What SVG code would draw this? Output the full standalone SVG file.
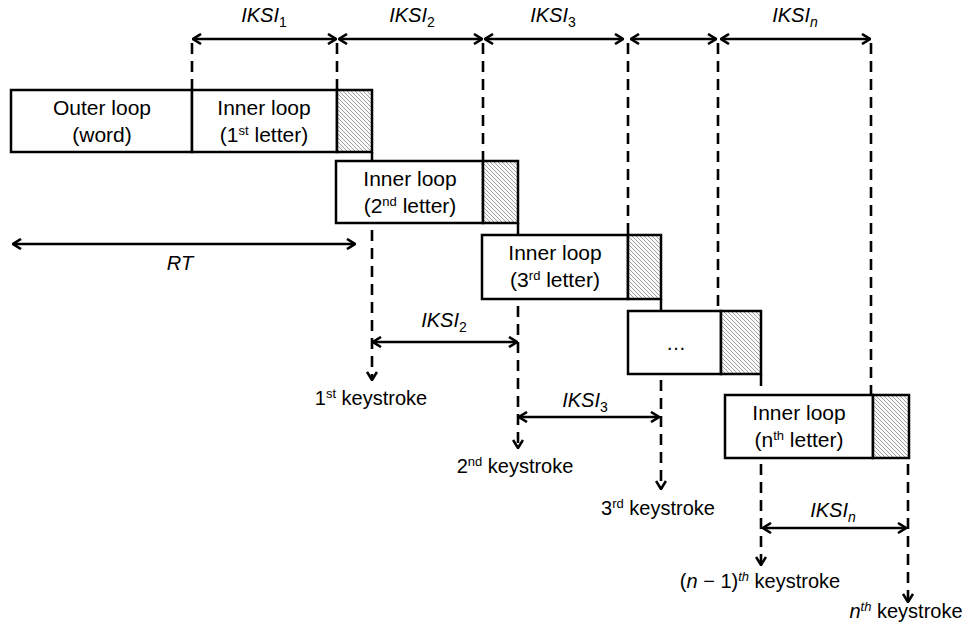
<svg xmlns="http://www.w3.org/2000/svg" width="964" height="632" viewBox="0 0 964 632">
<style>
.box{fill:#fff;stroke:#000;stroke-width:2.5}
.hatch{fill:url(#hp);stroke:#000;stroke-width:2.5}
.t{font-family:"Liberation Sans",Arial,sans-serif;font-size:20px;fill:#000}
.b{font-size:21px}
.c{text-anchor:middle}
.i{font-style:italic}
.n{font-style:normal}
.dash{stroke:#000;stroke-width:2.6;stroke-dasharray:11 7;fill:none}
.solid{stroke:#000;stroke-width:2.5;fill:none}
.arr{stroke:#000;stroke-width:2.5;fill:none;marker-start:url(#ah);marker-end:url(#ah)}
.down{marker-end:url(#ah)}
.sub{font-size:14px}
.sup{font-size:13px}
</style>
<defs>
<pattern id="hp" patternUnits="userSpaceOnUse" width="4" height="4">
<rect width="4" height="4" fill="#fafafa"/>
<path d="M-1,-1 L5,5 M-1,3 L1,5 M3,-1 L5,1" stroke="#8a8a8a" stroke-width="0.8"/>
</pattern>
<marker id="ah" viewBox="0 0 10 12" refX="9" refY="6" markerWidth="10" markerHeight="12" markerUnits="userSpaceOnUse" orient="auto-start-reverse">
<path d="M1,1 L9,6 L1,11" fill="none" stroke="#000" stroke-width="2.6"/>
</marker>
</defs>

<g id="connectors">
<line class="dash" x1="192" y1="43" x2="192" y2="90"/>
<line class="dash" x1="337" y1="43" x2="337" y2="90"/>
<line class="dash" x1="483" y1="43" x2="483" y2="161"/>
<line class="dash" x1="628" y1="43" x2="628" y2="235"/>
<line class="dash" x1="718" y1="43" x2="718" y2="311"/>
<line class="dash" x1="871" y1="43" x2="871" y2="395"/>
<line class="arr" x1="193" y1="39" x2="336" y2="39"/>
<line class="arr" x1="339" y1="39" x2="482" y2="39"/>
<line class="arr" x1="485" y1="39" x2="623" y2="39"/>
<line class="arr" x1="631" y1="39" x2="716" y2="39"/>
<line class="arr" x1="721" y1="39" x2="870" y2="39"/>
<line class="solid" x1="372" y1="152" x2="372" y2="161"/>
<line class="solid" x1="518" y1="223" x2="518" y2="235"/>
<line class="solid" x1="661" y1="299" x2="661" y2="311"/>
<line class="solid" x1="761" y1="374" x2="761" y2="386"/>
<line class="dash down" x1="372" y1="230" x2="372" y2="380"/>
<line class="dash down" x1="518" y1="306" x2="518" y2="448"/>
<line class="dash down" x1="661" y1="380" x2="661" y2="489"/>
<line class="dash down" x1="761" y1="464" x2="761" y2="565"/>
<line class="dash down" x1="908" y1="464" x2="908" y2="602"/>
<line class="arr" x1="13" y1="244" x2="355" y2="244"/>
<line class="arr" x1="373" y1="342" x2="517" y2="342"/>
<line class="arr" x1="519" y1="417" x2="659" y2="417"/>
<line class="arr" x1="763" y1="528" x2="906" y2="528"/>
</g>

<g id="node-outer">
<rect class="box" x="11" y="90" width="181" height="62"/>
<text class="t b c" x="102" y="115">Outer loop</text>
<text class="t b c" x="102" y="142">(word)</text>
</g>
<g id="node-inner1">
<rect class="box" x="192" y="90" width="145" height="62"/>
<rect class="hatch" x="337" y="90" width="35" height="62"/>
<text class="t b c" x="264" y="115">Inner loop</text>
<text class="t b c" x="264" y="142">(1<tspan class="sup" dy="-7">st</tspan><tspan dy="7"> letter)</tspan></text>
</g>
<g id="node-inner2">
<rect class="box" x="336" y="161" width="147" height="62"/>
<rect class="hatch" x="483" y="161" width="35" height="62"/>
<text class="t b c" x="410" y="186">Inner loop</text>
<text class="t b c" x="410" y="213">(2<tspan class="sup" dy="-7">nd</tspan><tspan dy="7"> letter)</tspan></text>
</g>
<g id="node-inner3">
<rect class="box" x="482" y="235" width="146" height="64"/>
<rect class="hatch" x="628" y="235" width="33" height="64"/>
<text class="t b c" x="555" y="260">Inner loop</text>
<text class="t b c" x="555" y="287">(3<tspan class="sup" dy="-7">rd</tspan><tspan dy="7"> letter)</tspan></text>
</g>
<g id="node-dots">
<rect class="box" x="628" y="311" width="93" height="63"/>
<rect class="hatch" x="721" y="311" width="40" height="63"/>
<text class="t c" x="676" y="350">…</text>
</g>
<g id="node-innern">
<rect class="box" x="725" y="395" width="148" height="63"/>
<rect class="hatch" x="873" y="395" width="36" height="63"/>
<text class="t b c" x="799" y="420">Inner loop</text>
<text class="t b c" x="799" y="447">(n<tspan class="sup" dy="-7">th</tspan><tspan dy="7"> letter)</tspan></text>
</g>

<g id="labels">
<text class="t c i" x="264" y="22">IKSI<tspan class="sub n" dy="5">1</tspan></text>
<text class="t c i" x="412" y="22">IKSI<tspan class="sub n" dy="5">2</tspan></text>
<text class="t c i" x="553" y="22">IKSI<tspan class="sub n" dy="5">3</tspan></text>
<text class="t c i" x="795" y="22">IKSI<tspan class="sub" dy="5">n</tspan></text>
<text class="t c i" x="180" y="270">RT</text>
<text class="t c i" x="444" y="327">IKSI<tspan class="sub n" dy="5">2</tspan></text>
<text class="t c i" x="585" y="407">IKSI<tspan class="sub n" dy="5">3</tspan></text>
<text class="t c i" x="833" y="517">IKSI<tspan class="sub" dy="5">n</tspan></text>
<text class="t c" x="371" y="405">1<tspan class="sup" dy="-7">st</tspan><tspan dy="7"> keystroke</tspan></text>
<text class="t c" x="515" y="473">2<tspan class="sup" dy="-7">nd</tspan><tspan dy="7"> keystroke</tspan></text>
<text class="t c" x="658" y="515">3<tspan class="sup" dy="-7">rd</tspan><tspan dy="7"> keystroke</tspan></text>
<text class="t c" x="760" y="588">(<tspan class="i">n</tspan> − 1)<tspan class="sup i" dy="-7">th</tspan><tspan dy="7"> keystroke</tspan></text>
<text class="t c" x="906" y="618"><tspan class="i">n</tspan><tspan class="sup i" dy="-7">th</tspan><tspan dy="7"> keystroke</tspan></text>
</g>
</svg>
